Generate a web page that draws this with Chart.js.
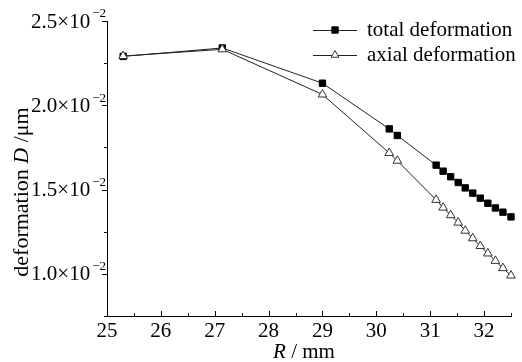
<!DOCTYPE html>
<html>
<head>
<meta charset="utf-8">
<script src="https://cdn.jsdelivr.net/npm/chart.js@4"></script>
<style>
  body { margin: 0; background: #fff; }
</style>
</head>
<body>
<canvas id="grafico" width="522" height="362"></canvas>
<script>
// datos
const radio = [25.3, 27.14, 29.0, 30.24, 30.39, 31.11, 31.24, 31.38, 31.52, 31.65, 31.79, 31.93, 32.07, 32.21, 32.35, 32.5];
const totalDef = [0.02290, 0.02340, 0.02131, 0.01860, 0.01821, 0.01645, 0.01609, 0.01576, 0.01542, 0.01510, 0.01479, 0.01449, 0.01419, 0.01391, 0.01366, 0.01338];
const axialDef = [0.02292, 0.02332, 0.02064, 0.01717, 0.01671, 0.01439, 0.01393, 0.01348, 0.01304, 0.01256, 0.01211, 0.01165, 0.01121, 0.01077, 0.01034, 0.00990];
const etiquetas = ['total deformation', 'axial deformation'];

const xTicks = [25, 26, 27, 28, 29, 30, 31, 32];
const xMinor = [25.5, 26.5, 27.5, 28.5, 29.5, 30.5, 31.5, 32.5];
const yTicks = [0.010, 0.015, 0.020, 0.025];
const yTickLabels = ['1.0', '1.5', '2.0', '2.5'];
const yMinor = [0.0075, 0.0125, 0.0175, 0.0225];

const serif = '"Liberation Serif", "Times New Roman", serif';

// ejes, textos y leyenda
const dibujo = {
    id: 'dibujo',
    afterDraw(chart) {
        const ctx = chart.ctx;
        const xs = chart.scales.x;
        const ys = chart.scales.y;
        const area = chart.chartArea;
        ctx.save();
        ctx.strokeStyle = '#000';
        ctx.lineWidth = 1;
        ctx.beginPath();
        xTicks.forEach(v => {
            const px = Math.round(xs.getPixelForValue(v)) + 0.5;
            ctx.moveTo(px, area.bottom); ctx.lineTo(px, area.bottom - 5);
        });
        xMinor.forEach(v => {
            const px = Math.round(xs.getPixelForValue(v)) + 0.5;
            ctx.moveTo(px, area.bottom); ctx.lineTo(px, area.bottom - 3);
        });
        yTicks.forEach(v => {
            const py = Math.round(ys.getPixelForValue(v)) + 0.5;
            ctx.moveTo(area.left, py); ctx.lineTo(area.left - 5, py);
        });
        yMinor.forEach(v => {
            const py = Math.round(ys.getPixelForValue(v)) + 0.5;
            ctx.moveTo(area.left, py); ctx.lineTo(area.left - 3, py);
        });
        ctx.stroke();

        ctx.fillStyle = '#000';
        ctx.textBaseline = 'middle';

        // etiquetas eje x
        ctx.font = '21px ' + serif;
        ctx.textAlign = 'center';
        xTicks.forEach(v => ctx.fillText(String(v), xs.getPixelForValue(v), 331));

        // etiquetas eje y
        yTicks.forEach((v, i) => {
            const py = ys.getPixelForValue(v);
            ctx.textAlign = 'right';
            ctx.font = '13px ' + serif;
            const sup = '\u22122';
            ctx.fillText(sup, area.left - 1, py - 7);
            const w = ctx.measureText(sup).width;
            ctx.font = '21px ' + serif;
            ctx.fillText(yTickLabels[i] + '\u00d710', area.left - 3 - w, py + 1);
        });

        // titulo eje x
        ctx.textAlign = 'left';
        ctx.font = 'italic 21px ' + serif;
        const wR = ctx.measureText('R').width;
        ctx.font = '21px ' + serif;
        const wMm = ctx.measureText(' / mm').width;
        let x0 = 304 - (wR + wMm) / 2;
        ctx.font = 'italic 21px ' + serif;
        ctx.fillText('R', x0, 352);
        ctx.font = '21px ' + serif;
        ctx.fillText(' / mm', x0 + wR, 352);

        // titulo eje y
        ctx.translate(22, 192);
        ctx.rotate(-Math.PI / 2);
        const partes = [['deformation ', ''], ['D', 'italic '], [' /\u03bcm', '']];
        let total = 0;
        partes.forEach(p => { ctx.font = p[1] + '22px ' + serif; total += ctx.measureText(p[0]).width; });
        let pos = -total / 2;
        partes.forEach(p => {
            ctx.font = p[1] + '22px ' + serif;
            ctx.fillText(p[0], pos, 0);
            pos += ctx.measureText(p[0]).width;
        });
        ctx.setTransform(1, 0, 0, 1, 0, 0);

        // leyenda
        chart.data.datasets.forEach((ds, i) => {
            const y = 30 + 25 * i;
            ctx.strokeStyle = ds.borderColor;
            ctx.lineWidth = 1;
            ctx.beginPath();
            ctx.moveTo(313, y + 0.5); ctx.lineTo(357, y + 0.5);
            ctx.stroke();
            ctx.fillStyle = ds.pointBackgroundColor;
            ctx.strokeStyle = ds.pointBorderColor;
            Chart.helpers.drawPoint(ctx, { pointStyle: ds.pointStyle, radius: 4.5, borderWidth: 1, rotation: 0 }, 335, y);
            ctx.fillStyle = '#000';
            ctx.font = '21px ' + serif;
            ctx.textAlign = 'left';
            ctx.fillText(etiquetas[i], 367, y);
        });
        ctx.restore();
    }
};

new Chart(document.getElementById('grafico').getContext('2d'), {
    type: 'line',
    data: {
        datasets: [{
            label: etiquetas[0],
            data: radio.map((r, i) => ({ x: r, y: totalDef[i] })),
            borderColor: '#222',
            borderWidth: 1,
            pointStyle: 'rect',
            pointRadius: 4.5,
            pointBackgroundColor: '#000',
            pointBorderColor: '#000',
            pointBorderWidth: 1,
            order: 1,
            clip: false
        }, {
            label: etiquetas[1],
            data: radio.map((r, i) => ({ x: r, y: axialDef[i] })),
            borderColor: '#222',
            borderWidth: 1,
            pointStyle: 'triangle',
            pointRadius: 5,
            pointBackgroundColor: '#fff',
            pointBorderColor: '#333',
            pointBorderWidth: 1,
            order: 0,
            clip: false
        }]
    },
    options: {
        responsive: false,
        animation: false,
        devicePixelRatio: 1,
        layout: { padding: { left: 107, top: 21, right: 11, bottom: 46 } },
        plugins: { legend: { display: false }, tooltip: { enabled: false } },
        scales: {
            x: {
                type: 'linear', min: 25, max: 32.5,
                ticks: { display: false },
                grid: { display: false, drawTicks: false },
                border: { color: '#000', width: 1 }
            },
            y: {
                type: 'linear', min: 0.0075, max: 0.025,
                ticks: { display: false },
                grid: { display: false, drawTicks: false },
                border: { color: '#000', width: 1 }
            }
        }
    },
    plugins: [dibujo]
});
</script>
</body>
</html>
